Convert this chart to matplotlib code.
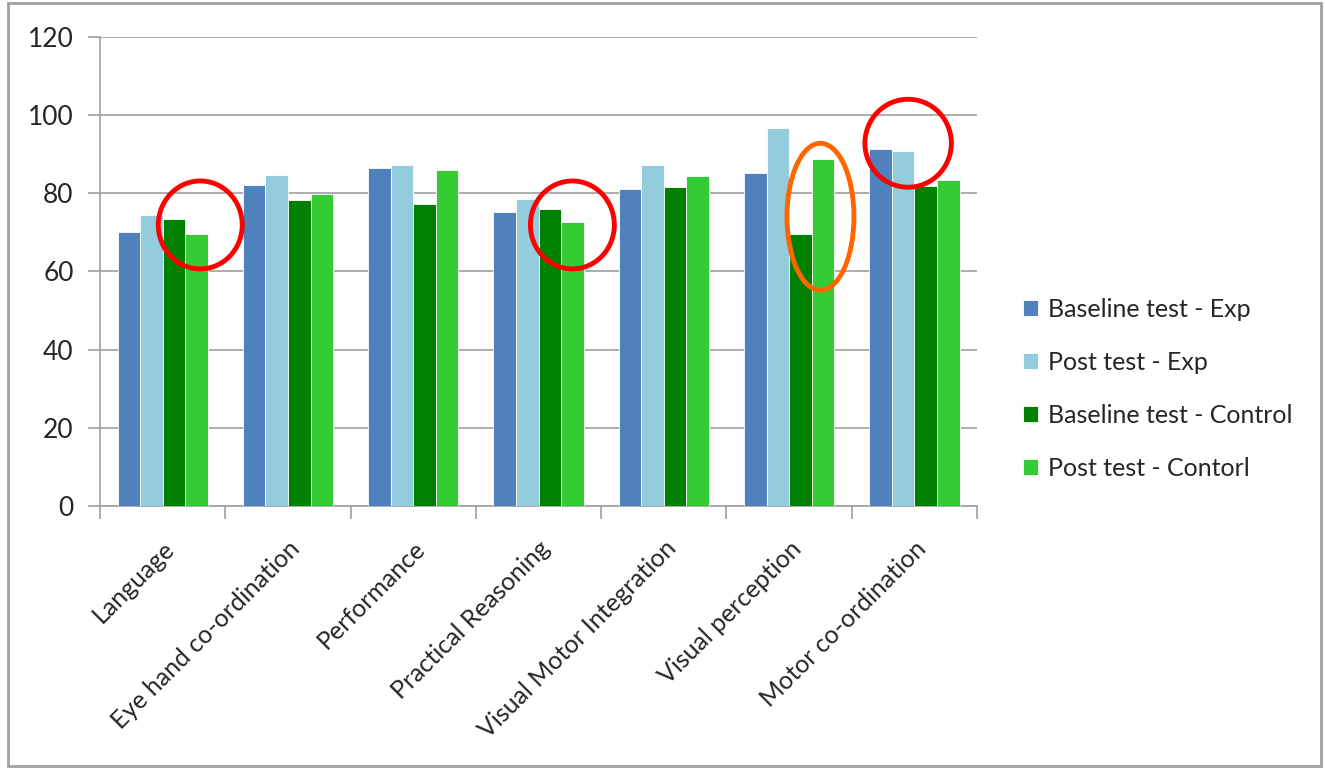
import matplotlib.pyplot as plt
import numpy as np
from matplotlib.patches import Ellipse, Rectangle

categories = ['Language', 'Eye hand co-ordination', 'Performance', 'Practical Reasoning',
              'Visual Motor Integration', 'Visual perception', 'Motor co-ordination']
baseline_exp = [70.1, 82.2, 86.5, 75.1, 81.2, 85.1, 91.2]
post_exp = [74.4, 84.7, 87.3, 78.6, 87.2, 96.6, 90.8]
baseline_ctrl = [73.3, 78.3, 77.2, 75.9, 81.5, 69.7, 81.9]
post_ctrl = [69.7, 79.8, 85.9, 72.6, 84.4, 88.7, 83.4]

series = [baseline_exp, post_exp, baseline_ctrl, post_ctrl]
names = ['Baseline test - Exp', 'Post test - Exp', 'Baseline test - Control', 'Post test - Contorl']
colors = ['#4F81BD', '#93CDDD', '#008000', '#33CC33']

plt.rcParams['font.family'] = ['Lato', 'DejaVu Sans']
plt.rcParams['text.color'] = '#262626'

fig = plt.figure(figsize=(13.25, 7.69), dpi=100)
ax = fig.add_axes([0.0755, 0.342, 0.6619, 0.610])

x = np.arange(len(categories))
w = 0.18
for i, (vals, name, c) in enumerate(zip(series, names, colors)):
  ax.bar(x + (i - 1.5)*w, vals, w, color=c, label=name, edgecolor='white', linewidth=0.6, zorder=3)

ax.set_xlim(-0.5, len(categories) - 0.5)
ax.set_ylim(0, 120)
ax.set_yticks(range(0, 121, 20))
ax.yaxis.grid(True, color='#A0A0A0', linewidth=1.2, zorder=0)
ax.set_axisbelow(True)

# category boundaries as ticks, labels at centres
ax.set_xticks(np.arange(-0.5, len(categories)), minor=False)
ax.set_xticklabels([])
ax.set_xticks(x, minor=True)
ax.set_xticklabels(categories, minor=True, rotation=45, ha='right', rotation_mode='anchor',
                   fontsize=18, color='#262626')
ax.tick_params(axis='x', which='minor', length=0, pad=22)
ax.tick_params(axis='x', which='major', length=9, color='#A0A0A0', width=1.2)
ax.tick_params(axis='y', length=9, color='#A0A0A0', width=1.2, labelsize=19, pad=10,
               labelcolor='#262626')

for s in ['top', 'right']:
  ax.spines[s].set_visible(False)
for s in ['left', 'bottom']:
  ax.spines[s].set_color('#A0A0A0')
  ax.spines[s].set_linewidth(1.2)

# highlight rings drawn on the original chart
rings = [(0.30, 71.9, 0.67, 22.5, 'red'), (3.27, 71.9, 0.67, 22.5, 'red'),
         (5.95, 92.8, 0.69, 22.5, 'red'), (5.25, 74.0, 0.535, 37.6, '#FF6600')]
for cx, cy, ew, eh, ec in rings:
  ax.add_patch(Ellipse((cx, cy), ew, eh, fill=False, edgecolor=ec, linewidth=3.5, zorder=5, clip_on=False))

ax.legend(loc='center left', bbox_to_anchor=(1.027, 0.25), frameon=False, fontsize=18,
          handlelength=0.6, handleheight=0.6, handletextpad=0.4, labelspacing=1.2)

fig.patches.append(Rectangle((0.006, 0.004), 0.991, 0.992, transform=fig.transFigure,
                             fill=False, edgecolor='#A0A0A0', linewidth=2))

fig.savefig('out.png', dpi=100)
